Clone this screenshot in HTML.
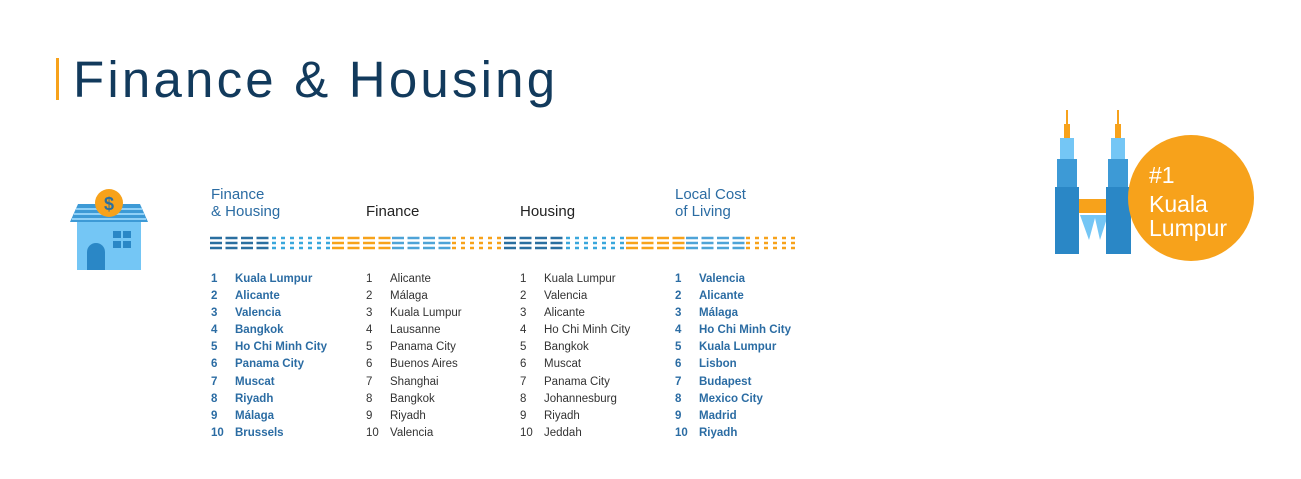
<!DOCTYPE html>
<html><head><style>
body{margin:0;width:1301px;height:479px;background:#fff;position:relative;overflow:hidden;font-family:"Liberation Sans",sans-serif}
.t{position:absolute}
.h{position:absolute;font-size:15px;line-height:17px}
.col{position:absolute;top:271px;font-size:11.5px;line-height:17.1px}
.col div{white-space:nowrap}
.col span{display:inline-block;width:24px}
.b{color:#2b6ca3;font-weight:bold}
.n{color:#333}
</style></head><body>
<div class="t" style="left:56px;top:58px;width:3px;height:42px;background:#f7a21b"></div>
<div class="t" style="left:73px;top:50px;font-size:51px;color:#123a5c;letter-spacing:3.2px;line-height:60px">Finance &amp; Housing</div>

<svg class="t" style="left:66px;top:186px" width="86" height="86">
<polygon points="12,18 74,18 82,36 4,36" fill="#3d9ad6"/>
<g stroke="#8fd0f7" stroke-width="2"><line x1="10" y1="23" x2="76" y2="23"/><line x1="8" y1="28" x2="78" y2="28"/><line x1="6" y1="33" x2="80" y2="33"/></g>
<rect x="11" y="36" width="64" height="48" fill="#74c6f5"/>
<path d="M21 84 V66 a9 9 0 0 1 18 0 V84 Z" fill="#2a87c6"/>
<rect x="47" y="45" width="8" height="7" fill="#2a87c6"/><rect x="57" y="45" width="8" height="7" fill="#2a87c6"/>
<rect x="47" y="55" width="8" height="7" fill="#2a87c6"/><rect x="57" y="55" width="8" height="7" fill="#2a87c6"/>
<circle cx="43" cy="17" r="14" fill="#f7a21b"/>
<text x="43" y="24" font-size="18" font-weight="bold" fill="#2a6fa0" text-anchor="middle" font-family="Liberation Sans">$</text>
</svg>

<div class="h" style="left:211px;top:186px;color:#2b6ca3">Finance<br>&amp; Housing</div>
<div class="h" style="left:366px;top:203px;color:#222">Finance</div>
<div class="h" style="left:520px;top:203px;color:#222">Housing</div>
<div class="h" style="left:675px;top:186px;color:#2b6ca3">Local Cost<br>of Living</div>

<svg class="t" style="left:205px;top:234px" width="590" height="18">
<defs><g id="p">
<g stroke="#2a6fa0" stroke-dasharray="12 3.5"><line x1="0" x2="60" y1="4" y2="4"/><line x1="0" x2="60" y1="9" y2="9"/><line x1="0" x2="60" y1="14" y2="14"/></g>
<g stroke="#3aa7dc" stroke-dasharray="4 5"><line x1="62" x2="122" y1="4" y2="4"/><line x1="62" x2="122" y1="9" y2="9"/><line x1="62" x2="122" y1="14" y2="14"/></g>
<g stroke="#f7a21b" stroke-dasharray="12 3.5"><line x1="122" x2="182" y1="4" y2="4"/><line x1="122" x2="182" y1="9" y2="9"/><line x1="122" x2="182" y1="14" y2="14"/></g>
<g stroke="#4ea3d8" stroke-dasharray="12 3.5"><line x1="182" x2="242" y1="4" y2="4"/><line x1="182" x2="242" y1="9" y2="9"/><line x1="182" x2="242" y1="14" y2="14"/></g>
<g stroke="#f7a21b" stroke-dasharray="4 5"><line x1="242" x2="296" y1="4" y2="4"/><line x1="242" x2="296" y1="9" y2="9"/><line x1="242" x2="296" y1="14" y2="14"/></g>
</g></defs>
<g stroke-width="2.5"><use href="#p" x="5"/><use href="#p" x="299"/></g>
</svg>

<div class="col b" style="left:211px">
<div><span>1</span>Kuala Lumpur</div><div><span>2</span>Alicante</div><div><span>3</span>Valencia</div><div><span>4</span>Bangkok</div><div><span>5</span>Ho Chi Minh City</div><div><span>6</span>Panama City</div><div><span>7</span>Muscat</div><div><span>8</span>Riyadh</div><div><span>9</span>Málaga</div><div><span>10</span>Brussels</div></div>
<div class="col n" style="left:366px">
<div><span>1</span>Alicante</div><div><span>2</span>Málaga</div><div><span>3</span>Kuala Lumpur</div><div><span>4</span>Lausanne</div><div><span>5</span>Panama City</div><div><span>6</span>Buenos Aires</div><div><span>7</span>Shanghai</div><div><span>8</span>Bangkok</div><div><span>9</span>Riyadh</div><div><span>10</span>Valencia</div></div>
<div class="col n" style="left:520px">
<div><span>1</span>Kuala Lumpur</div><div><span>2</span>Valencia</div><div><span>3</span>Alicante</div><div><span>4</span>Ho Chi Minh City</div><div><span>5</span>Bangkok</div><div><span>6</span>Muscat</div><div><span>7</span>Panama City</div><div><span>8</span>Johannesburg</div><div><span>9</span>Riyadh</div><div><span>10</span>Jeddah</div></div>
<div class="col b" style="left:675px">
<div><span>1</span>Valencia</div><div><span>2</span>Alicante</div><div><span>3</span>Málaga</div><div><span>4</span>Ho Chi Minh City</div><div><span>5</span>Kuala Lumpur</div><div><span>6</span>Lisbon</div><div><span>7</span>Budapest</div><div><span>8</span>Mexico City</div><div><span>9</span>Madrid</div><div><span>10</span>Riyadh</div></div>

<svg class="t" style="left:1040px;top:100px" width="220" height="170">
<line x1="27" y1="10" x2="27" y2="26" stroke="#f7a21b" stroke-width="2"/>
<line x1="78" y1="10" x2="78" y2="26" stroke="#f7a21b" stroke-width="2"/>
<rect x="24" y="24" width="6" height="14" fill="#f7a21b"/><rect x="75" y="24" width="6" height="14" fill="#f7a21b"/>
<rect x="20" y="38" width="14" height="22" fill="#74c6f5"/><rect x="71" y="38" width="14" height="22" fill="#74c6f5"/>
<rect x="17" y="59" width="20" height="28" fill="#3d9ad6"/><rect x="68" y="59" width="20" height="28" fill="#3d9ad6"/>
<polygon points="40,115 49,140 55,118 60,140 68,115" fill="#74c6f5"/>
<rect x="38" y="99" width="32" height="14" fill="#f7a21b"/>
<rect x="15" y="87" width="24" height="67" fill="#2a87c6"/><rect x="66" y="87" width="25" height="67" fill="#2a87c6"/>
<circle cx="151" cy="98" r="63" fill="#f7a21b"/>
<g fill="#fff" font-family="Liberation Sans" font-size="23"><text x="109" y="83">#1</text><text x="109" y="112">Kuala</text><text x="109" y="136">Lumpur</text></g>
</svg>
</body></html>
